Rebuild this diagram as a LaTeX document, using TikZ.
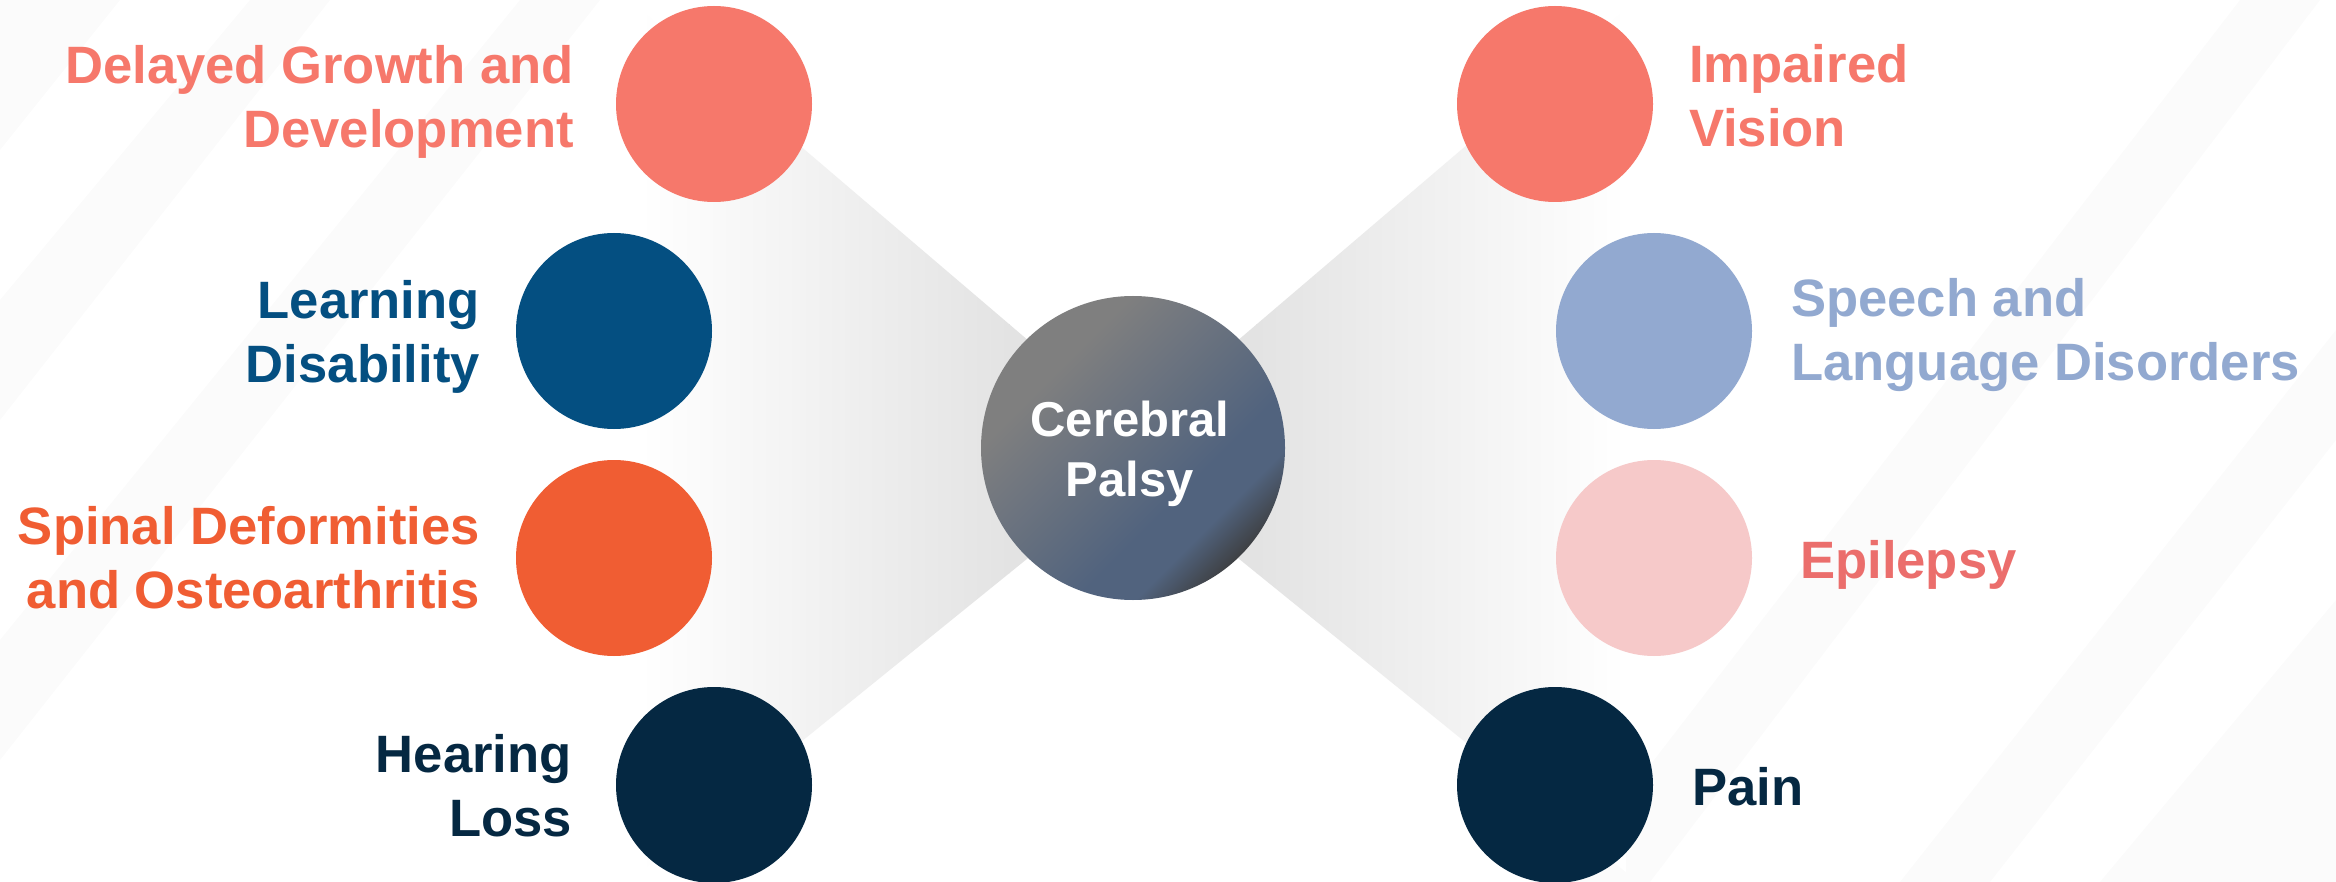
\documentclass[tikz,border=0pt]{standalone}
\usepackage{fontspec}
\setmainfont{Liberation Sans}
\definecolor{salmon}{HTML}{F6786B}
\definecolor{ldblue}{HTML}{044F81}
\definecolor{orng}{HTML}{F05D33}
\definecolor{navy}{HTML}{052842}
\definecolor{periw}{HTML}{92A9D0}
\definecolor{pinkc}{HTML}{F6C9C9}
\definecolor{pinkt}{HTML}{EB6E6C}
\definecolor{trigray}{HTML}{E3E3E3}
\definecolor{cpgray}{HTML}{7F7F7F}
\definecolor{cpblue}{HTML}{51637E}
\definecolor{cpdark}{HTML}{3C3C3C}
\pgfdeclarehorizontalshading{cpshade}{100bp}{color(0bp)=(cpgray); color(32bp)=(cpgray); color(61bp)=(cpblue); color(68bp)=(cpblue); color(76bp)=(cpdark); color(100bp)=(cpdark)}
\begin{document}
\begin{tikzpicture}[x=1pt,y=1pt,
  dot/.style={circle, minimum size=196pt, inner sep=0pt},
  lbl/.style={font=\fontsize{52.6}{64}\selectfont\bfseries, inner sep=0pt},
  lleft/.style={lbl, anchor=east, align=right},
  lright/.style={lbl, anchor=west, align=left},
  stripe/.style={fill=black, opacity=0.014}]
\useasboundingbox (0,0) rectangle (2336,-882);
\fill[white] (0,0) rectangle (2336,-882);
% faint background stripes
\begin{scope}
\clip (0,0) rectangle (2336,-882);
\fill[stripe] (0,-300) -- (250,0) -- (330,0) -- (0,-420) -- cycle;
\fill[stripe] (0,-640) -- (520,0) -- (600,0) -- (0,-760) -- cycle;
\fill[stripe] (0,0) -- (120,0) -- (0,-150) -- cycle;
\fill[stripe] (1900,-882) -- (2336,-330) -- (2336,-440) -- (1990,-882) -- cycle;
\fill[stripe] (1560,-882) -- (2240,0) -- (2320,0) -- (1650,-882) -- cycle;
\fill[stripe] (2100,-882) -- (2336,-600) -- (2336,-882) -- cycle;
\end{scope}
% gray fans
\begin{scope}
\clip (1159,-452) -- (560,59) -- (560,-937) -- cycle;
\shade[left color=white, right color=trigray] (640,60) rectangle (1010,-940);
\fill[trigray] (1009,60) rectangle (1170,-940);
\end{scope}
\begin{scope}
\clip (1107,-452) -- (1706,59) -- (1706,-937) -- cycle;
\shade[left color=trigray, right color=white] (1256,60) rectangle (1626,-940);
\fill[trigray] (1096,60) rectangle (1257,-940);
\end{scope}
% circles
\node[dot, fill=salmon] (dg) at (714,-104) {};
\node[dot, fill=ldblue] (ld) at (614,-331) {};
\node[dot, fill=orng] (sd) at (614,-558) {};
\node[dot, fill=navy] (hl) at (714,-785) {};
\node[dot, fill=salmon] (iv) at (1555,-104) {};
\node[dot, fill=periw] (sl) at (1654,-331) {};
\node[dot, fill=pinkc] (ep) at (1654,-558) {};
\node[dot, fill=navy] (pn) at (1555,-785) {};
\node[circle, minimum size=304pt, inner sep=0pt, shading=cpshade, shading angle=-45] (cp) at (1133,-448) {};
\node[text=white, align=center, inner sep=0pt, font=\fontsize{49}{60}\selectfont\bfseries] (cpl) at (1130,-454) {Cerebral\\Palsy};
% labels
\node[lleft, text=salmon] (dgl) at (574,-101.5) {Delayed Growth and\\Development};
\node[lleft, text=ldblue] (ldl) at (480,-336.5) {Learning\\Disability};
\node[lleft, text=orng] (sdl) at (480,-558) {Spinal Deformities\\and Osteoarthritis};
\node[lleft, text=navy] (hll) at (572,-786) {Hearing\\Loss};
\node[lright, text=salmon] (ivl) at (1689,-96) {Impaired\\Vision};
\node[lright, text=periw] (sll) at (1791,-335.5) {Speech and\\Language Disorders};
\node[lright, text=pinkt] (epl) at (1800,-564.5) {Epilepsy};
\node[lright, text=navy] (pnl) at (1692,-787) {Pain};
\end{tikzpicture}
\end{document}
